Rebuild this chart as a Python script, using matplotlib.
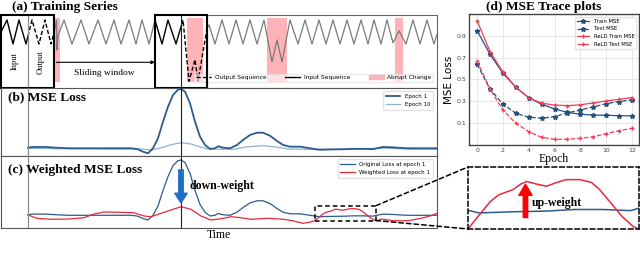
import numpy as np
import matplotlib
matplotlib.use("Agg")
import matplotlib.pyplot as plt
from matplotlib.patches import Rectangle, Patch, ConnectionPatch
from matplotlib.lines import Line2D

# ---------------- data ----------------
# (a) training series (time step, normalised value)
series_t = [0, 6, 12, 18, 25, 31, 38, 44, 50, 53, 55.6, 55.9, 57, 63, 71, 80, 88, 97, 105, 113,
            120, 128, 135, 141, 148, 154, 161, 167, 175, 182, 188, 194, 197, 206, 208, 214, 221,
            228, 235, 242, 249, 256, 263, 271, 276, 281, 289, 297, 304, 311, 318, 325, 332, 339,
            346, 353, 360, 367, 373, 380, 386, 392, 398, 405, 412, 419, 426, 433, 436]
series_v = [0.0, 1, -1, 1, -1, 1, -1, 1, -1, -0.1, 1.0, -1.5, -0.3, 1, -1, 1, -1, 1, -1, 1,
            -1, 1, -1, 1, -1, 1, -1, 1, -1, 1, -4.1, -2.3, -4.1, 0.3, 0.6, -1, 1,
            -1, 1, -1, 1, -1, 1, -2.5, -0.67, -2.5, 1, -1, 1, -1, 1, -1, 1, -1,
            1, -1, 1, -1, 1, -1, 1, -0.9, 0.1, -1, 1, -1, 1, -1, -0.2]
win_start = [0, 154]
win_split = [27, 180]
win_end = [53, 206]
abrupt_start = [53.5, 186, 266, 394]
abrupt_end = [59, 202, 286, 402]
series_end = 436

# (b) MSE loss per time step
ep1_t = [27, 32, 45, 55, 67, 100, 130, 136, 142, 147, 152, 157, 162, 167, 172, 177, 180, 184,
         189, 194, 199, 204, 209, 214, 217, 222, 229, 236, 242, 249, 256, 262, 269, 276, 282,
         289, 299, 309, 318, 330, 342, 352, 362, 372, 382, 392, 406, 419, 436]
ep1_loss = [0.105, 0.117, 0.117, 0.105, 0.095, 0.095, 0.095, 0.083, 0.037, 0.01, 0.095, 0.264,
            0.546, 0.80, 0.998, 1.088, 1.10, 1.054, 0.858, 0.546, 0.292, 0.151, 0.083, 0.095,
            0.129, 0.105, 0.095, 0.151, 0.236, 0.32, 0.359, 0.359, 0.308, 0.219, 0.151, 0.122,
            0.122, 0.095, 0.07, 0.075, 0.078, 0.085, 0.085, 0.08, 0.117, 0.11, 0.095, 0.095, 0.095]
ep10_t = [27, 60, 100, 140, 150, 160, 170, 180, 190, 200, 207, 220, 233, 245, 262, 275, 287,
          300, 340, 375, 390, 410, 436]
ep10_loss = [0.095, 0.088, 0.083, 0.083, 0.066, 0.1, 0.156, 0.19, 0.168, 0.112, 0.083, 0.078,
             0.078, 0.117, 0.139, 0.117, 0.083, 0.078, 0.078, 0.095, 0.095, 0.078, 0.078]

# (c) weighted loss at epoch 1
w_t = [27, 36, 50, 67, 83, 93, 103, 120, 133, 143, 150, 160, 170, 180, 190, 200, 210, 220, 230,
       240, 250, 267, 283, 293, 302, 309, 314, 318, 322, 325, 330, 333, 335, 338, 342, 345, 349,
       354, 358, 361, 365, 369, 373, 376, 380, 393, 407, 420, 430, 436]
w_loss = [0.10, 0.04, 0.022, 0.027, 0.051, 0.118, 0.155, 0.149, 0.142, 0.082, 0.069, 0.131,
          0.191, 0.251, 0.204, 0.082, 0.009, 0.033, 0.069, 0.051, 0.022, 0.04, 0.022, -0.009,
          -0.051, -0.03, 0.0, 0.061, 0.12, 0.149, 0.171, 0.197, 0.207, 0.197, 0.186, 0.2, 0.215,
          0.215, 0.203, 0.171, 0.113, 0.054, 0.01, -0.005, 0.027, -0.004, -0.004, 0.04, 0.087, 0.131]
zoom_t = [314, 375]
zoom_loss = [0.0, 0.27]

# (d) MSE trace
epochs = list(range(13))
train_mse = [0.949, 0.731, 0.556, 0.427, 0.331, 0.27, 0.227, 0.195, 0.178, 0.17, 0.168, 0.165, 0.162]
test_mse = [0.639, 0.411, 0.27, 0.187, 0.15, 0.141, 0.156, 0.19, 0.217, 0.245, 0.275, 0.295, 0.31]
reld_train = [1.041, 0.755, 0.568, 0.427, 0.33, 0.28, 0.263, 0.257, 0.265, 0.282, 0.30, 0.315, 0.332]
reld_test = [0.669, 0.41, 0.217, 0.095, 0.017, -0.035, -0.053, -0.053, -0.044, -0.03, 0.0, 0.025, 0.048]

# ---------------- styles ----------------
SERIF = "Liberation Serif"
BLUE = "#2d5b8c"
LBLUE = "#8fb1d3"
RED = "#e8283f"
PINK = "#ffb3b9"
FRAME = "#555555"

W, H = 640, 257
fig = plt.figure(figsize=(6.4, 2.57), dpi=100)


def px_ax(x0, y0, x1, y1):
    return fig.add_axes([x0 / W, 1 - y1 / H, (x1 - x0) / W, (y1 - y0) / H])


# ---------------- (a) ----------------
ax_a = px_ax(1, 15, 437, 88)
ax_a.set_xlim(0, series_end)
ax_a.set_ylim(-4.667, 1.417)
ax_a.axis("off")
ylo, yhi = ax_a.get_ylim()

for s, e in zip(abrupt_start, abrupt_end):
    ax_a.axvspan(s, e, ymin=0.082, ymax=0.959, color=PINK, lw=0, zorder=0)


def clipped(x0, x1, **kw):
    ln, = ax_a.plot(series_t, series_v, **kw)
    r = Rectangle((x0, ylo), x1 - x0, yhi - ylo, transform=ax_a.transData)
    ln.set_clip_path(r)


clipped(win_end[0], win_start[1], color="#7a7a7a", lw=0.9, zorder=2)
clipped(win_end[1], series_end, color="#7a7a7a", lw=0.9, zorder=2)
for s, sp, e in zip(win_start, win_split, win_end):
    clipped(s, sp, color="black", lw=1.0, zorder=3)
    clipped(sp, e, color="black", lw=1.0, ls=(0, (3, 1.6)), zorder=3)
    ax_a.add_patch(Rectangle((s, 0), e - s, 1, transform=ax_a.get_xaxis_transform(),
                             fill=False, ec="black", lw=1.5, clip_on=False, zorder=6))
ax_a.add_patch(Rectangle((win_end[1], 0), series_end - win_end[1], 1,
                         transform=ax_a.get_xaxis_transform(), fill=False, ec="#666666",
                         lw=0.8, clip_on=False, zorder=1))

bt = ax_a.get_xaxis_transform()
ax_a.text((win_start[0] + win_split[0]) / 2, 0.37, "Input", rotation=90, transform=bt,
          ha="center", va="center", family=SERIF, fontsize=6)
ax_a.text((win_split[0] + win_end[0]) / 2, 0.36, "Output", rotation=90, transform=bt,
          ha="center", va="center", family=SERIF, fontsize=6)
ax_a.annotate("", xy=(win_start[1], 0.352), xytext=(abrupt_start[0] + 2, 0.352),
              xycoords=bt, textcoords=bt,
              arrowprops=dict(arrowstyle="-|>", color="black", lw=0.8, mutation_scale=5,
                              shrinkA=0, shrinkB=0))
ax_a.text((abrupt_start[0] + win_start[1]) / 2, 0.2, "Sliding window", transform=bt,
          ha="center", va="center", family=SERIF, fontsize=6.8)

h_a = [Line2D([], [], color="black", lw=1.0, ls=(0, (3, 1.6))),
       Line2D([], [], color="black", lw=1.0),
       Patch(color=PINK)]
ax_a.legend(h_a, ["Output Sequence", "Input Sequence", "Abrupt Change"], ncol=3,
            loc="lower right", bbox_to_anchor=(0.998, 0.04), fontsize=4.2, frameon=True,
            framealpha=0.6, edgecolor="#dddddd", fancybox=False, handlelength=2.6,
            columnspacing=3.2, borderpad=0.3, handletextpad=0.6)

# ---------------- (b) ----------------
ax_b = px_ax(1, 88, 437, 156)
ax_b.set_xlim(0, series_end)
ax_b.set_ylim(-0.036, 1.117)
ax_b.plot(ep1_t, ep1_loss, color=BLUE, lw=1.3, label="Epoch 1", zorder=3)
ax_b.plot(ep10_t, ep10_loss, color=LBLUE, lw=0.9, label="Epoch 10", zorder=2)
ax_b.legend(loc="upper right", fontsize=4, frameon=True, edgecolor="#dddddd", fancybox=True,
            handlelength=2.6, borderpad=0.5, bbox_to_anchor=(0.997, 0.99))

# ---------------- (c) ----------------
ax_c = px_ax(1, 156, 437, 228)
ax_c.set_xlim(0, series_end)
ax_c.set_ylim(-0.136, 1.173)
ax_c.plot(ep1_t, ep1_loss, color=BLUE, lw=0.9, label="Original Loss at epoch 1", zorder=3)
ax_c.plot(w_t, w_loss, color=RED, lw=0.9, label="Weighted Loss at epoch 1", zorder=3)
ax_c.legend(loc="upper right", fontsize=4, frameon=True, edgecolor="#dddddd", fancybox=True,
            handlelength=2.6, borderpad=0.5, bbox_to_anchor=(0.997, 0.99))
ax_c.add_patch(Rectangle((zoom_t[0], zoom_loss[0]), zoom_t[1] - zoom_t[0],
                         zoom_loss[1] - zoom_loss[0], fill=False, ec="black", lw=1.1,
                         ls=(0, (3, 2)), zorder=5))
ax_c.annotate("", xy=(win_split[1], 0.32), xytext=(win_split[1], 0.92),
              arrowprops=dict(width=3.2, headwidth=9, headlength=7, color="#1f6fc5",
                              shrink=0), zorder=6)
ax_c.text(win_split[1] + 8, 0.62, "down-weight", family=SERIF, weight="bold", fontsize=8.5,
          ha="left", va="center", zorder=7)
ax_c.set_xlabel("Time", family=SERIF, fontsize=8.5, labelpad=1)

for ax in (ax_b, ax_c):
    ax.set_xticks([])
    ax.set_yticks([])
    for sp in ax.spines.values():
        sp.set_color(FRAME)
        sp.set_linewidth(0.8)

for ax in (ax_a, ax_b, ax_c):
    ax.axvline(win_split[0], color="#8c8c8c", lw=0.9, zorder=4)
    ax.axvline(win_split[1], color="#222222", lw=0.8, zorder=4)

# ---------------- zoom inset ----------------
ax_z = px_ax(468, 167, 639, 229)
ax_z.set_xlim(*zoom_t)
ax_z.set_ylim(*zoom_loss)
ax_z.plot(ep1_t, ep1_loss, color=BLUE, lw=1.1)
ax_z.plot(w_t, w_loss, color=RED, lw=1.1)
ax_z.set_xticks([])
ax_z.set_yticks([])
for sp in ax_z.spines.values():
    sp.set_linestyle((0, (3, 2)))
    sp.set_linewidth(1.1)
    sp.set_color("black")
ax_z.annotate("", xy=(334.5, 0.195), xytext=(334.5, 0.05),
              arrowprops=dict(width=3.2, headwidth=9.5, headlength=8, color="#ff0000", shrink=0))
ax_z.text(336.8, 0.113, "up-weight", family=SERIF, weight="bold", fontsize=8.5,
          ha="left", va="center")

for yA, yB in ((zoom_loss[1], 1), (zoom_loss[0], 0)):
    con = ConnectionPatch(xyA=(zoom_t[1], yA), coordsA=ax_c.transData,
                          xyB=(0, yB), coordsB=ax_z.transAxes,
                          color="black", lw=1.1, ls=(0, (3, 2)))
    fig.add_artist(con)

# ---------------- (d) ----------------
ax_d = px_ax(469, 14, 639, 145)
ax_d.set_xlim(-0.63, 12.55)
ax_d.set_ylim(-0.106, 1.103)
ax_d.grid(True, color="#e3e3e3", lw=0.6)
ax_d.set_axisbelow(True)
ax_d.plot(epochs, train_mse, color="#24507e", lw=0.9, marker="*", ms=3.5, label="Train MSE")
ax_d.plot(epochs, test_mse, color="#24507e", lw=0.9, ls="--", marker="*", ms=3.5, label="Test MSE")
ax_d.plot(epochs, reld_train, color="#f23c58", lw=0.9, marker="+", ms=3.5, label="ReLD Train MSE")
ax_d.plot(epochs, reld_test, color="#f23c58", lw=0.9, ls="--", marker="+", ms=3.5, label="ReLD Test MSE")
ax_d.set_xticks(range(0, 13, 2))
ax_d.set_yticks([0.1, 0.3, 0.5, 0.7, 0.9])
ax_d.tick_params(length=0, labelsize=4.5, labelcolor="#444444", pad=2)
for sp in ax_d.spines.values():
    sp.set_color("#444444")
    sp.set_linewidth(1.0)
ax_d.set_ylabel("MSE Loss", fontsize=7.5, labelpad=2)
ax_d.set_xlabel("Epoch", family=SERIF, fontsize=8.5, labelpad=0.5)
ax_d.legend(loc="upper right", fontsize=3.8, frameon=True, edgecolor="#dddddd",
            handlelength=2.4, borderpad=0.4, labelspacing=0.5)

# ---------------- titles ----------------
tkw = dict(family=SERIF, weight="bold", fontsize=9.6, va="center")
fig.text(12 / W, 1 - 7 / H, "(a) Training Series", ha="left", **tkw)
fig.text(8 / W, 1 - 97.5 / H, "(b) MSE Loss", ha="left", zorder=10, **tkw)
fig.text(8 / W, 1 - 169.5 / H, "(c) Weighted MSE Loss", ha="left", zorder=10, **tkw)
fig.text(543.5 / W, 1 - 7 / H, "(d) MSE Trace plots", ha="center", **tkw)

fig.savefig("out.png", dpi=100)
